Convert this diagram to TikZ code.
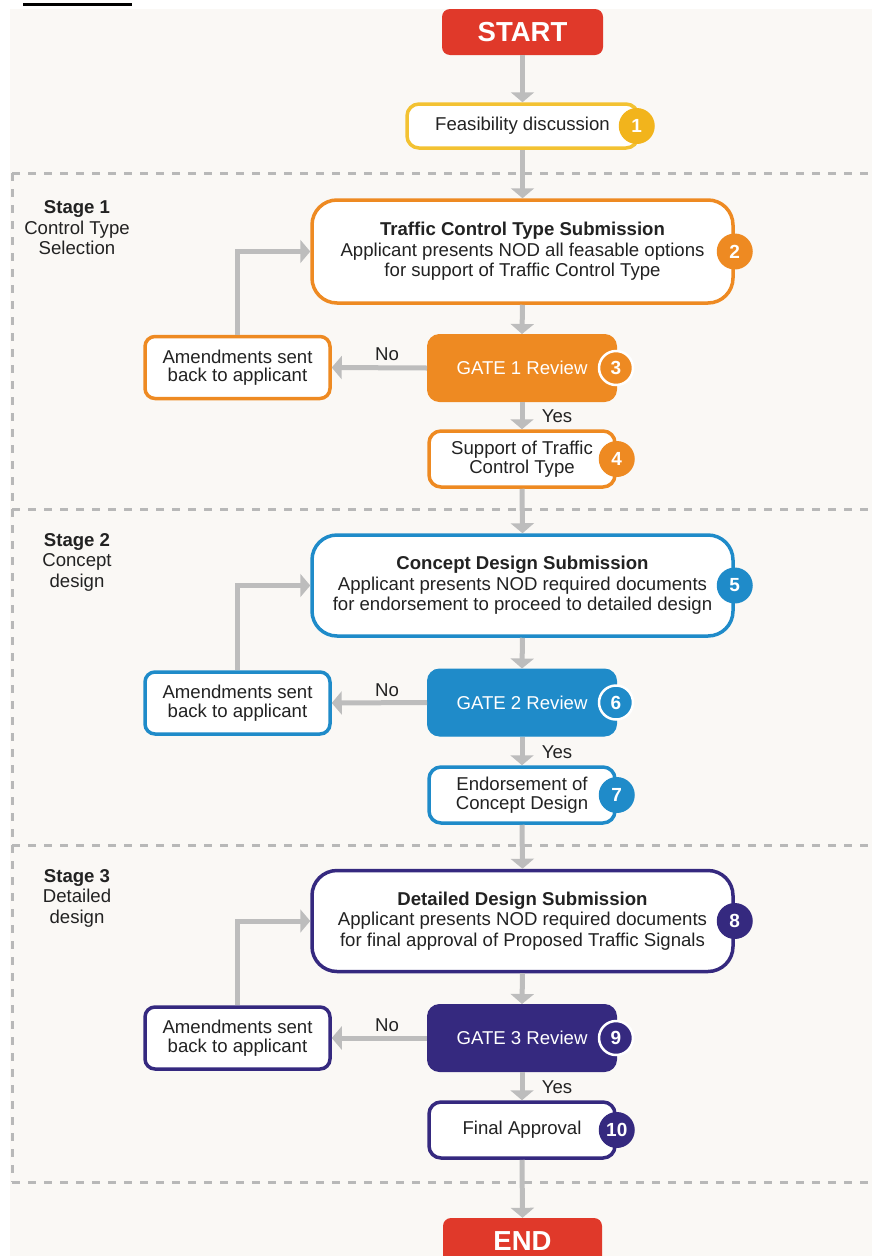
\documentclass[tikz,border=0pt]{standalone}
\usepackage{fontspec}
\setmainfont{Liberation Sans}
\usetikzlibrary{arrows.meta,calc}
\definecolor{bgc}{HTML}{FAF8F5}
\definecolor{redc}{HTML}{E0392A}
\definecolor{yelc}{HTML}{F3C232}
\definecolor{yelb}{HTML}{F2B41C}
\definecolor{orac}{HTML}{EE8A22}
\definecolor{bluc}{HTML}{1F8BC9}
\definecolor{purc}{HTML}{35297F}
\definecolor{arrc}{HTML}{BDBDBD}
\definecolor{dshc}{HTML}{B8B8B8}
\definecolor{txtc}{HTML}{222222}
\newcommand{\fsA}{\fontsize{18.6}{20.5}\selectfont}
\newcommand{\fsB}{\fontsize{18.6}{18.5}\selectfont}
\begin{document}
\begin{tikzpicture}[x=1pt,y=-1pt,
  dashline/.style={draw=dshc,line width=3pt,dash pattern=on 8pt off 8pt},
  arr/.style={draw=arrc,line width=5pt,-{Triangle[width=23pt,length=10pt]}},
  termbox/.style={fill=redc,rounded corners=8pt,text=white,font=\fontsize{27.5}{30}\selectfont\bfseries,inner sep=0pt},
  subbox/.style={draw=#1,fill=white,line width=3.5pt,rounded corners=25pt,align=center,inner sep=0pt,text=txtc,font=\fsA,minimum width=421pt},
  smallbox/.style={draw=#1,fill=white,line width=3.5pt,rounded corners=12pt,align=center,inner sep=0pt,text=txtc,font=\fsB,minimum width=186pt,minimum height=56pt},
  gatebox/.style={draw=#1,fill=#1,line width=1pt,rounded corners=12pt,align=center,inner sep=0pt,text=white,font=\fsB,minimum width=189pt,minimum height=67pt},
  ambox/.style={draw=#1,fill=white,line width=3.5pt,rounded corners=10pt,align=center,inner sep=0pt,text=txtc,font=\fsB,minimum width=185pt,minimum height=62pt},
  badge/.style={circle,fill=#1,text=white,inner sep=0pt,minimum size=36pt,font=\fontsize{19}{19}\selectfont\bfseries},
  gbadge/.style={circle,fill=#1,draw=white,line width=2.5pt,text=white,inner sep=0pt,minimum size=34pt,font=\fontsize{19}{19}\selectfont\bfseries},
  lbl/.style={text=txtc,font=\fsB,inner sep=0pt},
  stagelbl/.style={text=txtc,font=\fsA,align=center,inner sep=0pt}
]
\useasboundingbox (0,0) rectangle (872,1256);
\clip (0,0) rectangle (872,1256);
\fill[white] (0,0) rectangle (872,1256);
\fill[bgc] (10,9) rectangle (872,1256);
\draw[black,line width=3pt] (23,4) -- (132,4);

% stage separators
\draw[dashline] (12,173) -- (872,173);
\draw[dashline] (12,509) -- (872,509);
\draw[dashline] (12,845) -- (872,845);
\draw[dashline] (12,1182) -- (872,1182);
\draw[dashline] (12,173) -- (12,1182);

% stage labels
\node[stagelbl] (st1) at (77,228) {\textbf{Stage 1}\\Control Type\\Selection};
\node[stagelbl] (st2) at (77,562) {\textbf{Stage 2}\\Concept\\design};
\node[stagelbl] (st3) at (77,898) {\textbf{Stage 3}\\Detailed\\design};

% nodes
\node[termbox,minimum width=161pt,minimum height=46pt] (start) at (522.5,32) {START};
\node[draw=yelc,fill=white,line width=3.5pt,rounded corners=12pt,inner sep=0pt,text=txtc,font=\fsB,minimum width=231pt,minimum height=44pt] (feas) at (522.5,126) {\raisebox{-2pt}{Feasibility discussion}};

\node[subbox=orac,minimum height=103pt] (sub1) at (522.5,251.5) {\textbf{Traffic Control Type Submission}\\Applicant presents NOD all feasable options\\for support of Traffic Control Type};
\node[gatebox=orac] (gate1) at (522,368) {GATE 1 Review};
\node[smallbox=orac] (sup4) at (522,459) {Support of Traffic\\Control Type};
\node[ambox=orac] (am1) at (237.5,367.5) {Amendments sent\\back to applicant};

\node[subbox=bluc,minimum height=101pt] (sub5) at (522.5,585.5) {\textbf{Concept Design Submission}\\Applicant presents NOD required documents\\for endorsement to proceed to detailed design};
\node[gatebox=bluc] (gate2) at (522,702.5) {GATE 2 Review};
\node[smallbox=bluc] (end7) at (522,795) {Endorsement of\\Concept Design};
\node[ambox=bluc] (am2) at (237.5,703) {Amendments sent\\back to applicant};

\node[subbox=purc,minimum height=101pt] (sub8) at (522.5,921) {\textbf{Detailed Design Submission}\\Applicant presents NOD required documents\\for final approval of Proposed Traffic Signals};
\node[gatebox=purc] (gate3) at (522,1038) {GATE 3 Review};
\node[smallbox=purc] (fin10) at (522,1130) {Final Approval};
\node[ambox=purc] (am3) at (237.5,1038) {Amendments sent\\back to applicant};

\node[termbox,minimum width=159pt,minimum height=46pt] (endn) at (522.5,1241) {END};

% badges
\node[badge=yelb] (b1) at ([xshift=-3pt]feas.east) {1};
\node[badge=orac] (b2) at (sub1.east) {2};
\node[gbadge=orac] (b3) at ([xshift=-1pt]gate1.east) {3};
\node[badge=orac] (b4) at (sup4.east) {4};
\node[badge=bluc] (b5) at (sub5.east) {5};
\node[gbadge=bluc] (b6) at ([xshift=-1pt]gate2.east) {6};
\node[badge=bluc] (b7) at (end7.east) {7};
\node[badge=purc] (b8) at (sub8.east) {8};
\node[gbadge=purc] (b9) at ([xshift=-1pt]gate3.east) {9};
\node[badge=purc] (b10) at (fin10.east) {10};

% main flow
\draw[arr] (start.south) -- (feas.north);
\draw[arr] (feas.south) -- (sub1.north);
\draw[arr] (sub1.south) -- (gate1.north);
\draw[arr] (gate1.south) -- (sup4.north);
\draw[arr] (sup4.south) -- (sub5.north);
\draw[arr] (sub5.south) -- (gate2.north);
\draw[arr] (gate2.south) -- (end7.north);
\draw[arr] (end7.south) -- (sub8.north);
\draw[arr] (sub8.south) -- (gate3.north);
\draw[arr] (gate3.south) -- (fin10.north);
\draw[arr] (fin10.south) -- (endn.north);

% rejection loops
\draw[arr] (gate1.west) -- (am1.east);
\draw[arr] (am1.north) |- (sub1.west);
\draw[arr] (gate2.west) -- (am2.east);
\draw[arr] (am2.north) |- (sub5.west);
\draw[arr] (gate3.west) -- (am3.east);
\draw[arr] (am3.north) |- (sub8.west);

% labels
\node[lbl] (no1) at (387,354) {No};
\node[lbl] (no2) at (387,690) {No};
\node[lbl] (no3) at (387,1025) {No};
\node[lbl] (yes1) at (557,416) {Yes};
\node[lbl] (yes2) at (557,752) {Yes};
\node[lbl] (yes3) at (557,1087) {Yes};
\end{tikzpicture}
\end{document}
